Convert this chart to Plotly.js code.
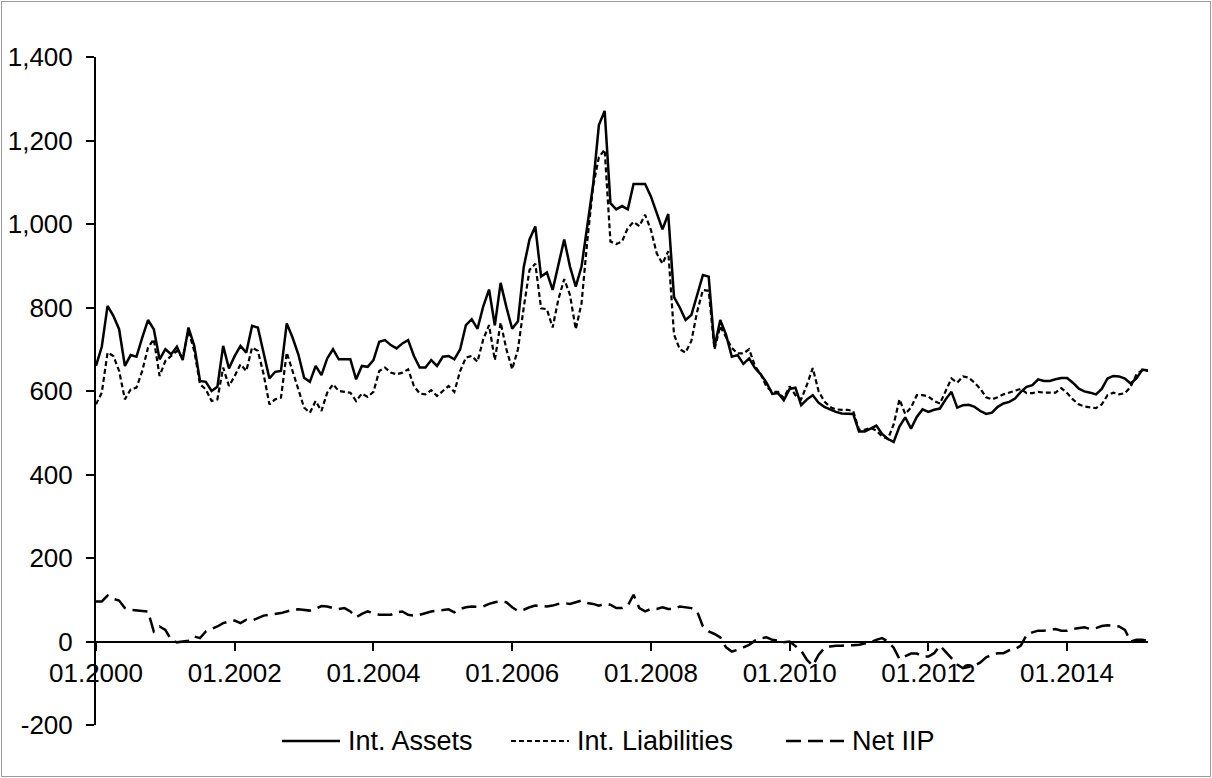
<!DOCTYPE html>
<html>
<head>
<meta charset="utf-8">
<script src="https://cdn.plot.ly/plotly-3.0.1.min.js"></script>
<style>
  html, body { margin: 0; padding: 0; background: #fff; }
  #wrap { position: relative; width: 1212px; height: 778px; }
  #chart { width: 1212px; height: 778px; }
  #frame { position: absolute; left: 1px; top: 1px; width: 1208px; height: 774px; border: 1px solid #9a9a9a; pointer-events: none; }
</style>
</head>
<body>
<div id="wrap"><div id="chart"></div><div id="frame"></div></div>
<script>
// Monthly data, 01.2000 - 03.2015
const startYear = 2000;
const nMonths = 183;

const intAssets = [
  660,706,804,780,748,660,686,682,728,770,748,676,
  700,688,706,674,752,708,624,622,600,610,708,654,
  684,708,692,756,752,692,630,646,648,762,728,688,
  632,622,660,638,678,700,676,676,676,628,660,658,
  674,718,722,710,702,714,722,684,656,656,674,660,
  682,684,676,700,758,772,749,803,843,757,859,801,
  749,767,897,963,994,874,884,842,904,963,898,850,
  898,1002,1094,1237,1271,1050,1035,1043,1035,1096,1096,1096,
  1066,1026,987,1024,825,800,770,782,830,878,874,705,
  770,735,682,686,665,678,655,640,620,593,595,578,
  605,608,566,580,590,572,562,556,550,546,545,545,
  503,503,510,517,497,485,478,515,537,510,538,556,
  550,555,558,580,598,560,566,567,562,552,545,548,
  562,570,574,582,598,610,614,628,624,624,628,631,
  631,620,606,599,596,592,605,630,636,635,630,618,
  630,651,649
];

const intLiabilities = [
  568,596,692,684,648,580,604,608,648,704,724,636,
  672,684,696,680,744,696,616,604,576,580,656,612,
  636,664,648,704,696,640,568,580,584,692,648,600,
  560,548,576,552,596,616,600,598,596,576,594,586,
  598,648,656,644,640,644,652,612,594,592,602,588,
  600,612,598,648,680,684,670,724,758,674,764,700,
  652,700,800,890,905,798,796,752,820,868,830,748,
  810,960,1090,1160,1178,958,952,958,990,1005,995,1022,
  986,930,905,935,735,700,692,720,790,842,840,700,
  755,728,703,690,690,700,660,640,610,598,598,583,
  611,590,580,615,655,600,575,562,556,555,555,552,
  507,507,512,505,491,485,520,580,545,560,590,590,
  587,576,570,600,630,620,635,632,620,605,585,580,
  585,592,596,600,605,595,595,598,596,596,596,607,
  595,580,568,563,561,559,568,590,596,592,595,610,
  640,650,648
];

const netIIP = [
  96,96,110,102,98,80,76,75,74,72,24,36,
  28,4,-2,0,2,12,8,24,30,36,44,48,
  50,44,52,50,56,62,64,66,68,72,76,77,
  76,74,78,85,84,80,78,80,72,58,66,72,
  68,64,64,64,70,72,64,62,64,68,72,74,
  76,77,70,78,82,84,83,84,90,94,96,94,
  82,73,76,82,86,85,84,86,90,92,90,94,
  98,92,90,86,90,88,80,80,86,112,80,72,
  78,78,82,78,78,84,82,80,72,36,24,18,
  10,-14,-24,-20,-14,-8,2,8,10,4,2,-2,
  0,-10,-22,-44,-58,-32,-16,-12,-10,-10,-10,-9,
  -8,-5,-2,4,8,0,-15,-42,-35,-29,-29,-36,
  -36,-28,-10,-25,-42,-55,-64,-61,-58,-50,-38,-32,
  -28,-28,-21,-18,-10,16,22,26,26,28,30,26,
  26,30,32,34,30,32,37,39,38,36,28,0,
  4,4,2
];

const xTickLabels = ['01.2000','01.2002','01.2004','01.2006','01.2008','01.2010','01.2012','01.2014'];
const yTickValues = [-200,0,200,400,600,800,1000,1200,1400];
const yTickLabels = ['-200','0','200','400','600','800','1,000','1,200','1,400'];
const seriesNames = ['Int. Assets','Int. Liabilities','Net IIP'];

const months = [];
for (let i = 0; i < nMonths; i++) {
  const y = startYear + Math.floor(i / 12);
  const m = (i % 12) + 1;
  months.push((m < 10 ? '0' : '') + m + '.' + y);
}

const font = 'Liberation Sans, Arial, sans-serif';
const lineStyles = [
  { color: '#000', width: 2.5 },
  { color: '#000', width: 2.2, dash: '5px,3px' },
  { color: '#000', width: 2.5, dash: '15px,7px' }
];
const seriesData = [intAssets, intLiabilities, netIIP];

const traces = seriesData.map((vals, k) => ({
  x: months, y: vals, name: seriesNames[k], type: 'scatter', mode: 'lines',
  line: lineStyles[k], showlegend: false
}));

// Legend drawn below the plot (Excel-style long key lines)
const plotL = 96, plotW = 1052, plotB = 725, plotH = 668;
const px2x = p => (p - plotL) / plotW;
const legendY = (plotB - 741) / plotH;
const legendKeys = [ [282, 340, 346], [511, 569, 575], [786, 844, 850] ];

const shapes = legendKeys.map((k, i) => ({
  type: 'line', xref: 'paper', yref: 'paper',
  x0: px2x(k[0]), x1: px2x(k[1]), y0: legendY, y1: legendY,
  line: lineStyles[i]
}));
const annotations = legendKeys.map((k, i) => ({
  xref: 'paper', yref: 'paper', x: px2x(k[2]), y: legendY,
  xanchor: 'left', yanchor: 'middle', showarrow: false,
  text: seriesNames[i], font: { family: font, size: 27, color: '#000' }
}));

const layout = {
  width: 1212, height: 778,
  margin: { l: 96, r: 64, t: 57, b: 53 },
  paper_bgcolor: '#fff', plot_bgcolor: '#fff',
  font: { family: font, size: 26, color: '#000' },
  showlegend: false,
  shapes: shapes,
  annotations: annotations,
  xaxis: {
    type: 'category', range: [0, nMonths - 1],
    tickmode: 'array', tickvals: xTickLabels, ticktext: xTickLabels,
    showline: true, linecolor: '#000', linewidth: 2,
    ticks: 'outside', ticklen: 8, tickwidth: 2, tickcolor: '#000',
    showgrid: false, zeroline: false,
    anchor: 'free', position: 0.125,
    tickfont: { family: font, size: 26, color: '#000' }
  },
  yaxis: {
    range: [-200, 1400],
    tickmode: 'array', tickvals: yTickValues, ticktext: yTickLabels,
    showline: true, linecolor: '#000', linewidth: 2,
    ticks: 'outside', ticklen: 8, tickwidth: 2, tickcolor: '#000',
    showgrid: false, zeroline: false, ticklabelstandoff: 8,
    tickfont: { family: font, size: 26, color: '#000' }
  }
};

Plotly.newPlot('chart', traces, layout, { displayModeBar: false, staticPlot: true });
</script>
</body>
</html>
